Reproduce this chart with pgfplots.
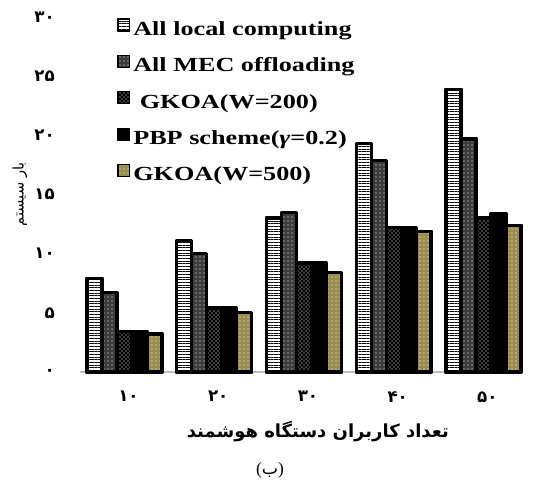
\documentclass[border=0pt]{standalone}
\usepackage{fontspec}
\usepackage{pgfplots}
\pgfplotsset{compat=1.18}
\usetikzlibrary{patterns,patterns.meta}
\setmainfont{Liberation Serif}
\newfontfamily\legfont{Liberation Serif}[FakeStretch=1.31]
\newfontfamily\arabicfont[Script=Arabic]{DejaVu Sans}
\TeXXeTstate=1
\definecolor{olivebar}{RGB}{155,140,80}
\definecolor{mecgray}{RGB}{60,60,60}

\pgfplotstableread{
x local mec gk200 pbp gk500
1 7.9 6.7 3.4 3.45 3.2
2 11.1 10.0 5.4 5.4 5.0
3 13.0 13.5 9.2 9.2 8.4
4 19.3 17.9 12.2 12.2 11.9
5 23.9 19.7 13.0 13.4 12.4
}\datatable

\pgfplotsset{
  myleg/.style={legend image code/.code={\draw[##1, line width=0.9pt, line join=round] (0pt,-0.5pt) rectangle (8.5pt,8.5pt);}},
}

\begin{document}
\begin{tikzpicture}
\useasboundingbox (0,0) rectangle (404.25pt,363.75pt);
\begin{axis}[
  at={(60pt,84.75pt)}, anchor=south west,
  scale only axis, width=331.5pt, height=266.25pt,
  ybar=0pt, bar width=0.167,
  xmin=0.504, xmax=5.43, ymin=0, ymax=30,
  clip=false,
  separate axis lines,
  axis x line*=bottom, axis y line*=left,
  x axis line style={draw=gray!50, line width=1pt},
  y axis line style={draw=none},
  major tick length=0pt,
  xtick={1,2,3,4,5},
  xticklabels={۱۰,۲۰,۳۰,۴۰,۵۰},
  ytick={0,5,10,15,20,25,30},
  yticklabels={۰,۵,۱۰,۱۵,۲۰,۲۵,۳۰},
  ticklabel style={font=\arabicfont\bfseries\fontsize{12.5}{14}\selectfont},
  xticklabel style={yshift=-11pt, xshift=3pt},
  yticklabel style={anchor=east, inner sep=0pt, xshift=-18.75pt},
  xlabel={\arabicfont\bfseries\fontsize{13.5}{16}\selectfont\beginR تعداد کاربران دستگاه هوشمند\endR},
  xlabel style={at={(axis description cs:0.538,-0.169)}, anchor=center},
  ylabel={\arabicfont\fontsize{11}{13}\selectfont\beginR بار سیستم\endR},
  ylabel style={at={(axis description cs:-0.136,0.5)}, anchor=center},
  every axis plot/.append style={draw=black, line width=2.5pt, line join=round},
  legend style={draw=none, fill=none, at={(0.084,0.997)}, anchor=north west,
    inner sep=0pt, row sep=11.6pt,
    font=\legfont\bfseries\fontsize{15}{18}\selectfont,
    nodes={inner sep=0pt, text height=10.5pt, text depth=3pt},
    /tikz/every odd column/.append style={column sep=2.5pt}},
  legend cell align=left,
]
\addplot[myleg, fill=white, postaction={pattern={Lines[angle=0,distance=2pt,line width=0.6pt]}, pattern color=black}] table[x=x,y=local] {\datatable};
\addplot[myleg, fill=mecgray, postaction={pattern=dots, pattern color=white}] table[x=x,y=mec] {\datatable};
\addplot[myleg, fill=black, postaction={pattern=crosshatch dots, pattern color=white}] table[x=x,y=gk200] {\datatable};
\addplot[myleg, fill=black] table[x=x,y=pbp] {\datatable};
\addplot[myleg, fill=olivebar, postaction={pattern=dots, pattern color=white}] table[x=x,y=gk500] {\datatable};
\legend{All local computing, All MEC offloading, {\ GKOA(W=200)}, {PBP scheme({\itshape γ}=0.2)}, GKOA(W=500)}
\end{axis}
\node[inner sep=0pt] at (202.5pt,11.25pt) {\fontsize{13}{15}\selectfont(\arabicfont\beginR ب\endR\rmfamily)};
\end{tikzpicture}
\end{document}
